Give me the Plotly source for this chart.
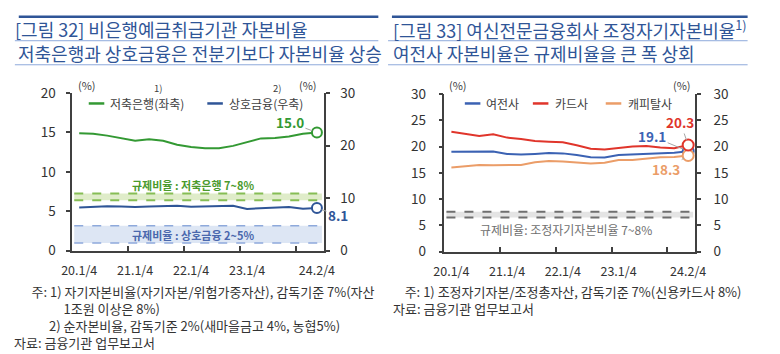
import plotly.graph_objects as go

W, H = 780, 354
FONT = "Noto Sans CJK KR"

# ---------------- data ----------------
quarters = ["20.1/4", "20.2/4", "20.3/4", "20.4/4", "21.1/4", "21.2/4", "21.3/4", "21.4/4",
            "22.1/4", "22.2/4", "22.3/4", "22.4/4", "23.1/4", "23.2/4", "23.3/4", "23.4/4",
            "24.1/4", "24.2/4"]
tick_labels = ["20.1/4", "21.1/4", "22.1/4", "23.1/4", "24.2/4"]

savings_bank = [14.9, 14.85, 14.6, 14.3, 13.95, 14.15, 13.95, 13.45, 13.15, 13.0, 13.0, 13.3,
                13.75, 14.25, 14.3, 14.5, 14.85, 15.0]          # left axis
mutual_fin = [8.2, 8.35, 8.45, 8.4, 8.3, 8.4, 8.5, 8.55, 8.35, 8.4, 8.5, 8.55,
              7.95, 8.1, 8.2, 8.3, 8.0, 8.1]                   # right axis

yeojeon = [19.0, 19.0, 19.0, 19.05, 18.6, 18.5, 18.6, 18.75, 18.7, 18.4, 17.95, 17.9,
           18.4, 18.5, 18.6, 18.75, 18.8, 19.1]
card = [22.8, 22.4, 22.0, 22.35, 21.7, 21.45, 21.05, 20.9, 20.8, 20.25, 19.6, 19.45,
        19.75, 20.0, 20.1, 19.8, 19.7, 20.3]
capital = [16.0, 16.3, 16.5, 16.45, 16.45, 16.5, 17.0, 17.25, 17.15, 17.0, 16.75, 16.9,
           17.45, 17.45, 17.7, 17.95, 18.0, 18.3]

band_savings = [6.4, 7.25]     # as drawn, left axis
band_mutual = [0.96, 3.15]     # as drawn, left axis
band_yeojeon = [6.5, 7.6]      # as drawn

# ---------------- styles ----------------
GREEN = "#339933"
BLUE_L = "#2f5597"
BLUE_R = "#3b62b3"
RED = "#e0352b"
ORANGE = "#eb9d68"
AXIS = "#404040"
TXT = "#333333"
TITLE = "#2f5597"

x = list(range(len(quarters)))
tick_idx = [quarters.index(t) for t in tick_labels]
minor_idx = [i - 0.5 for i in range(4, len(quarters), 4)]
last = len(quarters) - 1


def px(v):
    return v / W


def py(v):
    return 1 - v / H


fig = go.Figure()

# left chart
fig.add_trace(go.Scatter(x=x, y=savings_bank, mode="lines", line=dict(color=GREEN, width=2),
                         xaxis="x", yaxis="y", hoverinfo="skip", showlegend=False))
fig.add_trace(go.Scatter(x=x, y=mutual_fin, mode="lines", line=dict(color=BLUE_L, width=2),
                         xaxis="x", yaxis="y2", hoverinfo="skip", showlegend=False))
fig.add_trace(go.Scatter(x=[x[last]], y=[savings_bank[last]], mode="markers",
                         marker=dict(symbol="circle", size=10, color="white", line=dict(color=GREEN, width=2)),
                         xaxis="x", yaxis="y", hoverinfo="skip", showlegend=False))
fig.add_trace(go.Scatter(x=[x[last]], y=[mutual_fin[last]], mode="markers",
                         marker=dict(symbol="circle", size=10, color="white", line=dict(color=BLUE_L, width=2)),
                         xaxis="x", yaxis="y2", hoverinfo="skip", showlegend=False))

# right chart
for series, col in [(capital, ORANGE), (yeojeon, BLUE_R), (card, RED)]:
    fig.add_trace(go.Scatter(x=x, y=series, mode="lines", line=dict(color=col, width=2),
                             xaxis="x2", yaxis="y3", hoverinfo="skip", showlegend=False))
for series, col in [(yeojeon, BLUE_R), (capital, ORANGE), (card, RED)]:
    fig.add_trace(go.Scatter(x=[x[last]], y=[series[last]], mode="markers",
                             marker=dict(symbol="circle", size=11, color="white", line=dict(color=col, width=2)),
                             xaxis="x2", yaxis="y3", hoverinfo="skip", showlegend=False))
fig.add_trace(go.Scatter(x=x, y=[None] * len(x), mode="lines", xaxis="x2", yaxis="y4",
                         hoverinfo="skip", showlegend=False))

tickfont_x = dict(family=FONT, size=12.5, color=TXT)
tickfont_y = dict(family=FONT, size=13.5, color=TXT)


def xaxis_cfg(domain):
    return dict(domain=domain, range=[-0.5, last + 0.5], tickmode="array", tickvals=tick_idx,
                ticktext=tick_labels, ticks="", showline=True, linecolor=AXIS, linewidth=1.5,
                showgrid=False, zeroline=False, tickfont=tickfont_x, ticklabelstandoff=8,
                minor=dict(tickmode="array", tickvals=minor_idx, ticks="inside", ticklen=5,
                           tickcolor=AXIS, tickwidth=1.5, showgrid=False),
                fixedrange=True)


def yaxis_cfg(domain, rng, dtick, side, anchor, standoff, overlaying=None):
    d = dict(domain=domain, range=rng, dtick=dtick, tick0=0, side=side, anchor=anchor,
             ticks="outside", ticklen=4, tickcolor=AXIS, tickwidth=1.5, showline=True,
             linecolor=AXIS, linewidth=1.5, showgrid=False, zeroline=False,
             tickfont=tickfont_y, ticklabelstandoff=standoff, fixedrange=True)
    if overlaying:
        d["overlaying"] = overlaying
    return d


dom_lx = [px(63), px(322)]
dom_ly = [py(254), py(87)]
dom_rx = [px(446), px(704)]
dom_ry = [py(255), py(88)]

fig.update_layout(
    width=W, height=H, margin=dict(l=0, r=0, t=0, b=0),
    paper_bgcolor="white", plot_bgcolor="rgba(0,0,0,0)",
    xaxis=xaxis_cfg(dom_lx),
    xaxis2=dict(xaxis_cfg(dom_rx), anchor="y3"),
    yaxis=yaxis_cfg(dom_ly, [0, 20], 5, "left", "x", 8),
    yaxis2=yaxis_cfg(dom_ly, [0, 30], 10, "right", "x", 8, overlaying="y"),
    yaxis3=yaxis_cfg(dom_ry, [0, 30], 5, "left", "x2", 10),
    yaxis4=yaxis_cfg(dom_ry, [0, 30], 5, "right", "x2", 10, overlaying="y3"),
    showlegend=False,
)
fig.layout.xaxis.anchor = "y"

shapes = []
# header lines
for (x0, x1) in [(8, 378), (392, 758)]:
    shapes.append(dict(type="line", xref="paper", yref="paper", x0=px(x0), x1=px(x1),
                       y0=py(6), y1=py(6), line=dict(color="#2f5597", width=2.5)))
    for yy in (31.5, 57):
        shapes.append(dict(type="line", xref="paper", yref="paper", x0=px(x0 - 4), x1=px(x1),
                           y0=py(yy), y1=py(yy), line=dict(color="#8eaadb", width=1)))


def band(xref, yref, lo_hi, fill, line_col, lw):
    out = [dict(type="rect", xref=xref, yref=yref, x0=0.008, x1=0.992, y0=lo_hi[0], y1=lo_hi[1],
                fillcolor=fill, line=dict(width=0), layer="below")]
    for v in lo_hi:
        out.append(dict(type="line", xref=xref, yref=yref, x0=0.008, x1=0.992, y0=v, y1=v,
                        line=dict(color=line_col, width=lw, dash="dash"), layer="below"))
    return out


shapes += band("x domain", "y", band_savings, "#dfecc9", "#86bd55", 2)
shapes += band("x domain", "y", band_mutual, "#dde6f4", "#8ea9db", 1.5)
shapes += band("x2 domain", "y3", band_yeojeon, "#e4e4e4", "#6f6f6f", 2)

# legend samples
legend_items = [
    (80, 96, GREEN, 100, "저축은행(좌축)"),
    (202, 218, BLUE_L, 222, "상호금융(우축)"),
    (467, 483, BLUE_R, 487, "여전사"),
    (537, 553, RED, 558, "카드사"),
    (612, 628, ORANGE, 633, "캐피탈사"),
]
annotations = []
for x0, x1, col, tx, label in legend_items:
    shapes.append(dict(type="line", xref="paper", yref="paper", x0=px(x0), x1=px(x1),
                       y0=py(98), y1=py(98), line=dict(color=col, width=2.5)))
    annotations.append(dict(xref="paper", yref="paper", x=px(tx), y=py(98.5), text=label,
                            showarrow=False, xanchor="left", yanchor="middle",
                            font=dict(family=FONT, size=12, color="#404040")))

fig.update_layout(shapes=shapes)


def ann(xp, yp, text, size, color, xanchor="left", yanchor="middle", **kw):
    annotations.append(dict(xref="paper", yref="paper", x=px(xp), y=py(yp), text=text,
                            showarrow=False, xanchor=xanchor, yanchor=yanchor,
                            font=dict(family=FONT, size=size, color=color), **kw))


# titles
ann(2, 19, "[그림 32] 비은행예금취급기관 자본비율", 18, TITLE)
ann(5, 44, "저축은행과 상호금융은 전분기보다 자본비율 상승", 18, TITLE)
ann(391, 19, "[그림 33] 여신전문금융회사 조정자기자본비율<sup>1)</sup>", 18, TITLE)
ann(391, 44, "여전사 자본비율은 규제비율을 큰 폭 상회", 18, TITLE)

# units
for xc in (78, 306, 460, 690):
    ann(xc, 78, "(%)", 11, "#404040", xanchor="center")
ann(151, 82, "1)", 9.5, "#404040", xanchor="center")
ann(274, 82, "2)", 9.5, "#404040", xanchor="center")

# band labels
ann(187, 184, "<b>규제비율 : 저축은행 7~8%</b>", 11, "#4a9a2c", xanchor="center")
ann(187, 237, "<b>규제비율 : 상호금융 2~5%</b>", 11, "#4a68ad", xanchor="center")
ann(571, 232, "규제비율: 조정자기자본비율 7~8%", 12, "#707070", xanchor="center")

# footnotes (one multi-line block per panel)
FN = 13
NB = "&nbsp;"
left_notes = "<br>".join([
    NB * 6 + "주: 1) 자기자본비율(자기자본/위험가중자산), 감독기준 7%(자산",
    NB * 17 + "1조원 이상은 8%)",
    NB * 12 + "2) 순자본비율, 감독기준 2%(새마을금고 4%, 농협5%)",
    "자료: 금융기관 업무보고서",
])
right_notes = "<br>".join([
    NB * 4 + "주: 1) 조정자기자본/조정총자산, 감독기준 7%(신용카드사 8%)",
    "자료: 금융기관 업무보고서",
])
ann(2, 286, left_notes, FN, TXT, yanchor="top", align="left", borderpad=0)
ann(392, 286, right_notes, FN, TXT, yanchor="top", align="left", borderpad=0)


# value labels with leader lines
def value_label(xref, yref, yval, color, ax, ay):
    annotations.append(dict(xref=xref, yref=yref, x=x[last], y=yval, text=f"<b>{yval:.1f}</b>",
                            showarrow=True, arrowhead=0, arrowwidth=1, arrowcolor="#a6a6a6",
                            ax=ax, ay=ay, standoff=5,
                            font=dict(family=FONT, size=13.5, color=color)))


value_label("x", "y", savings_bank[last], GREEN, -27, -10)
value_label("x", "y2", mutual_fin[last], BLUE_L, 21, 7)
value_label("x2", "y3", card[last], RED, -8, -23)
value_label("x2", "y3", yeojeon[last], BLUE_R, -36, -15)
value_label("x2", "y3", capital[last], ORANGE, -22, 14)

fig.update_layout(annotations=annotations)

fig.write_html("out.html")
